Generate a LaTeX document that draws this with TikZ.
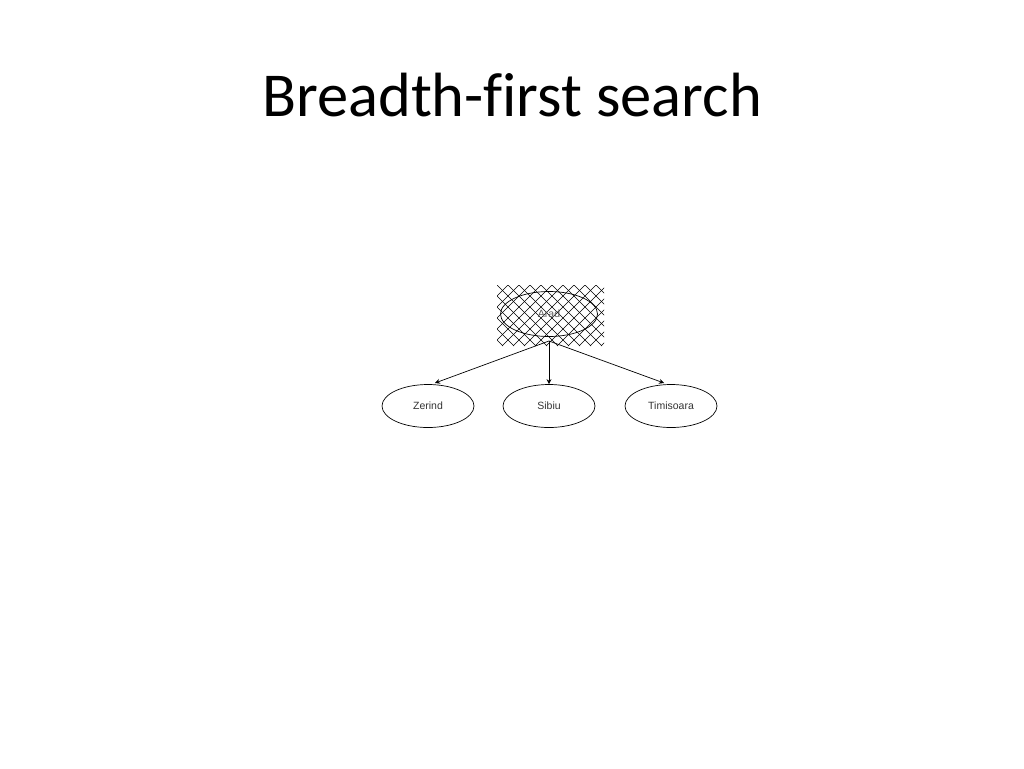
\documentclass[tikz,border=0pt]{standalone}
\usepackage{fontspec}
\setmainfont{Carlito}[Ligatures=NoCommon]
\newfontfamily\arialf{Liberation Sans}
\usetikzlibrary{shapes.geometric,arrows.meta}
\begin{document}
\begin{tikzpicture}[x=1pt,y=-1pt,
  city/.style={ellipse,draw,line width=0.7pt,minimum width=92pt,minimum height=43pt,inner sep=0pt,font=\arialf\fontsize{10.5}{12}\selectfont,text=black!80},
  edge/.style={line width=0.7pt,-{Stealth[length=5pt,width=5pt]}},
  hatch/.style={line width=0.5pt}]
\useasboundingbox (0,0) rectangle (1024,768);
\node[font=\fontsize{62.5}{72}\selectfont,anchor=base] (title) at (512,116) {Breadth-first search};
% hatched background of expanded node
\begin{scope}
  \clip (497,285) rectangle (604,346);
  \foreach \i in {-8,...,18}{
    \draw[hatch] (497+\i*11,285) -- ++(61,61);
    \draw[hatch] (497+\i*11,285) -- ++(-61,61);
  }
\end{scope}
\node[city,minimum width=97pt,minimum height=45pt,text=black!65] (arad) at (549,314) {Arad};
\node[city] (zerind) at (428,406) {Zerind};
\node[city] (sibiu) at (549,406) {Sibiu};
\node[city] (timi) at (671,406) {Timisoara};
\coordinate (src) at (549,341);
\coordinate (zt) at (435,383);
\coordinate (tt) at (664,383);
\draw[edge] (src) -- (zt);
\draw[edge] (src) -- (sibiu.north);
\draw[edge] (src) -- (tt);
\end{tikzpicture}
\end{document}
